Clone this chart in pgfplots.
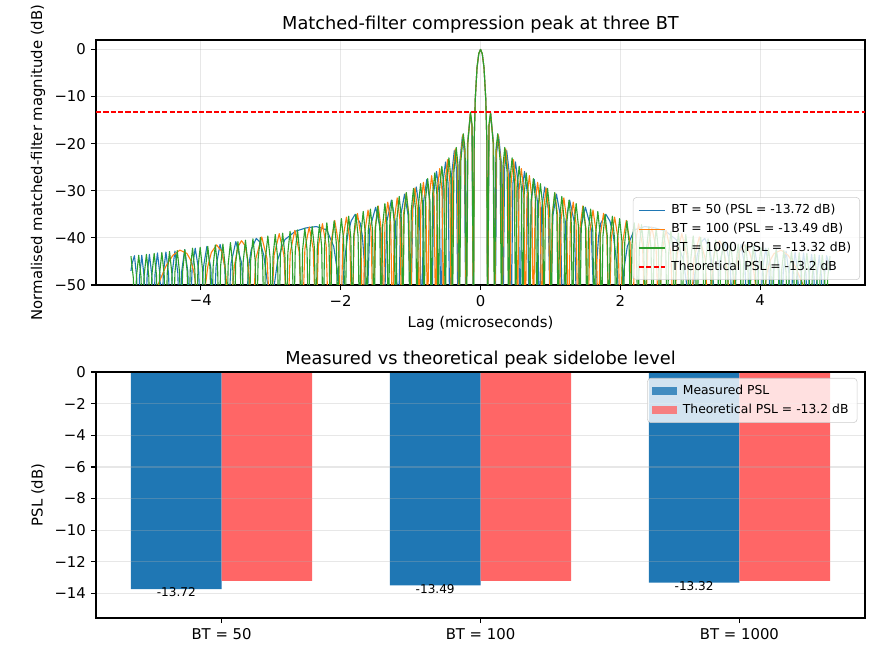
\documentclass[border=0pt]{standalone}
\usepackage{fontspec}
\setmainfont{DejaVu Sans}
\usepackage{pgfplots}
\pgfplotsset{compat=1.18}
\definecolor{c1}{HTML}{1F77B4}
\definecolor{c2}{HTML}{FF7F0E}
\definecolor{c3}{HTML}{2CA02C}
\definecolor{barred}{HTML}{FF6666}
\definecolor{gridc}{HTML}{B0B0B0}
\begin{document}
\begin{tikzpicture}
\path[use as bounding box] (0,0) rectangle (633.6pt,475.2pt);
\pgfplotsset{
  every axis/.append style={
    scale only axis,
    axis line style={line width=0.85pt},
    every tick/.style={line width=0.85pt, black},
    tick align=outside,
    major tick length=3.75pt,
    tick pos=left,
    tick label style={font=\fontsize{10.7}{12.8}\selectfont},
    label style={font=\fontsize{10.7}{12.8}\selectfont},
    title style={font=\fontsize{12.8}{15.4}\selectfont, at={(axis description cs:0.5,1)}, anchor=south, inner sep=0pt},
    grid style={color=gridc, opacity=0.3, line width=0.85pt},
    legend cell align=left,
  }
}
% ---------------- top axis ----------------
\begin{axis}[
  at={(69.12pt,270pt)}, anchor=south west,
  width=553.7pt, height=176.4pt,
  xmin=-5.5, xmax=5.5, ymin=-50, ymax=2,
  xtick={-4,-2,0,2,4}, xticklabels={−4,−2,0,2,4},
  ytick={-50,-40,-30,-20,-10,0}, yticklabels={−50,−40,−30,−20,−10,0},
  grid=major,
  title={Matched-filter compression peak at three BT},
  title style={yshift=-1.3pt},
  xlabel={Lag (microseconds)},
  ylabel={Normalised matched-filter magnitude (dB)},
  xlabel style={at={(axis description cs:0.5,-0.158)}, anchor=center},
  ylabel style={at={(axis description cs:-0.0755,0.5)}, anchor=center},
  legend image code/.code={\draw[#1, sharp corners] (0pt,0pt) -- (18.7pt,0pt);},
  legend style={at={(1,0)}, anchor=south east, xshift=-3.6pt, yshift=3.6pt,
    font=\fontsize{8.9}{10.7}\selectfont, draw=black!20, fill=white,
    fill opacity=0.8, draw opacity=1, text opacity=1, rounded corners=2.5pt,
    inner xsep=3.5pt, inner ysep=2.3pt, column sep=1.5pt, nodes={inner sep=2.7pt}},
]
\addplot[c1, line width=0.8pt, line join=round, no markers] coordinates {
(-5.000,-47.0) (-4.985,-45.5) (-4.950,-43.8) (-4.918,-48.4)
(-4.898,-60) (-4.877,-48.2) (-4.845,-43.7) (-4.812,-48.2)
(-4.791,-60) (-4.769,-48.0) (-4.736,-43.5) (-4.701,-48.0)
(-4.679,-60) (-4.656,-47.8) (-4.621,-43.2) (-4.585,-47.8)
(-4.562,-60) (-4.537,-47.6) (-4.500,-43.0) (-4.462,-47.6)
(-4.437,-60) (-4.410,-47.4) (-4.371,-42.8) (-4.330,-47.4)
(-4.303,-60) (-4.274,-47.1) (-4.232,-42.5) (-4.187,-47.1)
(-4.158,-60) (-4.126,-46.8) (-4.081,-42.2) (-4.032,-46.8)
(-4.000,-60) (-3.965,-46.4) (-3.914,-41.8) (-3.858,-46.4)
(-3.823,-60) (-3.782,-46.0) (-3.725,-41.4) (-3.659,-46.0)
(-3.618,-60) (-3.568,-45.4) (-3.500,-40.8) (-3.416,-45.4)
(-3.366,-60) (-3.340,-51.6) (-3.310,-45.4) (-3.280,-42.5) (-3.207,-40.1) (-3.150,-41.0) (-3.100,-43.7) (-3.050,-49.4)
(-3.000,-60) (-2.950,-50.0) (-2.900,-44.6) (-2.800,-40.4) (-2.650,-38.6) (-2.500,-37.9) (-2.350,-37.6) (-2.200,-38.3) (-2.100,-41.8) (-2.050,-46.8)
(-2.000,-60) (-1.950,-45.5) (-1.900,-39.4) (-1.850,-36.4) (-1.793,-35.0) (-1.720,-36.9) (-1.690,-39.6) (-1.660,-45.5)
(-1.634,-60) (-1.584,-38.1) (-1.500,-33.5) (-1.432,-38.1)
(-1.382,-60) (-1.341,-36.6) (-1.275,-32.0) (-1.218,-36.6)
(-1.177,-60) (-1.142,-35.3) (-1.086,-30.7) (-1.035,-35.3)
(-1.000,-60) (-0.968,-33.8) (-0.919,-29.2) (-0.874,-33.8)
(-0.842,-60) (-0.813,-32.2) (-0.768,-27.6) (-0.726,-32.2)
(-0.697,-60) (-0.670,-30.5) (-0.629,-25.9) (-0.591,-30.5)
(-0.564,-60) (-0.539,-28.5) (-0.500,-23.9) (-0.463,-28.5)
(-0.438,-60) (-0.415,-26.8) (-0.375,-21.5) (-0.344,-25.4)
(-0.321,-60) (-0.298,-24.0) (-0.259,-18.4) (-0.231,-21.9)
(-0.209,-60) (-0.187,-20.1) (-0.146,-13.7) (-0.123,-16.5)
(-0.102,-60) (-0.090,-19.0) (-0.075,-10.5) (-0.050,-3.9) (-0.025,-0.9)
(0,0) (0.025,-0.9) (0.050,-3.9) (0.075,-10.5) (0.090,-19.0) (0.102,-60)
(0.123,-16.5) (0.146,-13.7) (0.187,-20.1) (0.209,-60)
(0.231,-21.9) (0.259,-18.4) (0.298,-24.0) (0.321,-60)
(0.344,-25.4) (0.375,-21.5) (0.415,-26.8) (0.438,-60)
(0.463,-28.5) (0.500,-23.9) (0.539,-28.5) (0.564,-60)
(0.591,-30.5) (0.629,-25.9) (0.670,-30.5) (0.697,-60)
(0.726,-32.2) (0.768,-27.6) (0.813,-32.2) (0.842,-60)
(0.874,-33.8) (0.919,-29.2) (0.968,-33.8) (1.000,-60)
(1.035,-35.3) (1.086,-30.7) (1.142,-35.3) (1.177,-60)
(1.218,-36.6) (1.275,-32.0) (1.341,-36.6) (1.382,-60)
(1.432,-38.1) (1.500,-33.5) (1.584,-38.1) (1.634,-60)
(1.660,-45.5) (1.690,-39.6) (1.720,-36.9) (1.793,-35.0) (1.850,-36.4) (1.900,-39.4) (1.950,-45.5) (2.000,-60)
(2.050,-46.8) (2.100,-41.8) (2.200,-38.3) (2.350,-37.6) (2.500,-37.9) (2.650,-38.6) (2.800,-40.4) (2.900,-44.6) (2.950,-50.0) (3.000,-60)
(3.050,-49.4) (3.100,-43.7) (3.150,-41.0) (3.207,-40.1) (3.280,-42.5) (3.310,-45.4) (3.340,-51.6) (3.366,-60)
(3.416,-45.4) (3.500,-40.8) (3.568,-45.4) (3.618,-60)
(3.659,-46.0) (3.725,-41.4) (3.782,-46.0) (3.823,-60)
(3.858,-46.4) (3.914,-41.8) (3.965,-46.4) (4.000,-60)
(4.032,-46.8) (4.081,-42.2) (4.126,-46.8) (4.158,-60)
(4.187,-47.1) (4.232,-42.5) (4.274,-47.1) (4.303,-60)
(4.330,-47.4) (4.371,-42.8) (4.410,-47.4) (4.437,-60)
(4.462,-47.6) (4.500,-43.0) (4.537,-47.6) (4.562,-60)
(4.585,-47.8) (4.621,-43.2) (4.656,-47.8) (4.679,-60)
(4.701,-48.0) (4.736,-43.5) (4.769,-48.0) (4.791,-60)
(4.812,-48.2) (4.845,-43.7) (4.877,-48.2) (4.898,-60)
(4.918,-48.4) (4.950,-43.8) (4.985,-45.5) (5.000,-47.0)
};
\addlegendentry{BT = 50 (PSL = -13.72 dB)}
\addplot[c2, line width=0.8pt, line join=round, no markers] coordinates {
(-5.000,-80) (-4.800,-61) (-4.700,-54.5) (-4.600,-49.5) (-4.500,-46.0) (-4.400,-43.7) (-4.300,-42.6) (-4.200,-43.3) (-4.150,-44.6) (-4.100,-47.2) (-4.050,-52.5)
(-4.000,-60) (-3.950,-51.9) (-3.900,-46.0) (-3.850,-43.1) (-3.775,-41.5) (-3.700,-42.9) (-3.650,-46.7) (-3.620,-51.6)
(-3.586,-60) (-3.550,-50.9) (-3.520,-45.9) (-3.470,-41.9) (-3.419,-40.6) (-3.370,-41.6) (-3.330,-44.6) (-3.300,-49.7)
(-3.268,-60) (-3.214,-44.4) (-3.129,-39.8) (-3.054,-44.4)
(-3.000,-60) (-2.953,-43.7) (-2.879,-39.1) (-2.811,-43.7)
(-2.764,-60) (-2.721,-43.0) (-2.655,-38.4) (-2.594,-43.0)
(-2.551,-60) (-2.512,-42.3) (-2.450,-37.7) (-2.393,-42.3)
(-2.354,-60) (-2.318,-41.6) (-2.261,-37.0) (-2.208,-41.6)
(-2.172,-60) (-2.138,-40.9) (-2.085,-36.3) (-2.034,-40.9)
(-2.000,-60) (-1.968,-40.2) (-1.918,-35.6) (-1.870,-40.2)
(-1.838,-60) (-1.807,-39.4) (-1.760,-34.8) (-1.714,-39.4)
(-1.683,-60) (-1.654,-38.7) (-1.609,-34.1) (-1.565,-38.7)
(-1.536,-60) (-1.508,-37.9) (-1.464,-33.2) (-1.422,-37.9)
(-1.394,-60) (-1.367,-37.0) (-1.326,-32.4) (-1.285,-37.0)
(-1.258,-60) (-1.232,-36.1) (-1.192,-31.5) (-1.153,-36.1)
(-1.127,-60) (-1.102,-35.1) (-1.063,-30.5) (-1.025,-35.1)
(-1.000,-60) (-0.975,-34.0) (-0.938,-29.4) (-0.902,-34.0)
(-0.877,-60) (-0.853,-32.8) (-0.817,-28.2) (-0.781,-32.8)
(-0.757,-60) (-0.734,-31.4) (-0.699,-26.8) (-0.664,-31.4)
(-0.641,-60) (-0.618,-29.9) (-0.584,-25.3) (-0.551,-29.9)
(-0.528,-60) (-0.506,-28.0) (-0.472,-23.4) (-0.439,-28.0)
(-0.417,-60) (-0.396,-26.4) (-0.360,-21.1) (-0.331,-25.0)
(-0.310,-60) (-0.289,-23.8) (-0.252,-18.1) (-0.225,-21.7)
(-0.204,-60) (-0.183,-19.9) (-0.145,-13.5) (-0.122,-16.2)
(-0.101,-60) (-0.090,-19.1) (-0.075,-10.5) (-0.050,-3.9) (-0.025,-0.9)
(0,0) (0.025,-0.9) (0.050,-3.9) (0.075,-10.5) (0.090,-19.1) (0.101,-60)
(0.122,-16.2) (0.145,-13.5) (0.183,-19.9) (0.204,-60)
(0.225,-21.7) (0.252,-18.1) (0.289,-23.8) (0.310,-60)
(0.331,-25.0) (0.360,-21.1) (0.396,-26.4) (0.417,-60)
(0.439,-28.0) (0.472,-23.4) (0.506,-28.0) (0.528,-60)
(0.551,-29.9) (0.584,-25.3) (0.618,-29.9) (0.641,-60)
(0.664,-31.4) (0.699,-26.8) (0.734,-31.4) (0.757,-60)
(0.781,-32.8) (0.817,-28.2) (0.853,-32.8) (0.877,-60)
(0.902,-34.0) (0.938,-29.4) (0.975,-34.0) (1.000,-60)
(1.025,-35.1) (1.063,-30.5) (1.102,-35.1) (1.127,-60)
(1.153,-36.1) (1.192,-31.5) (1.232,-36.1) (1.258,-60)
(1.285,-37.0) (1.326,-32.4) (1.367,-37.0) (1.394,-60)
(1.422,-37.9) (1.464,-33.2) (1.508,-37.9) (1.536,-60)
(1.565,-38.7) (1.609,-34.1) (1.654,-38.7) (1.683,-60)
(1.714,-39.4) (1.760,-34.8) (1.807,-39.4) (1.838,-60)
(1.870,-40.2) (1.918,-35.6) (1.968,-40.2) (2.000,-60)
(2.034,-40.9) (2.085,-36.3) (2.138,-40.9) (2.172,-60)
(2.208,-41.6) (2.261,-37.0) (2.318,-41.6) (2.354,-60)
(2.393,-42.3) (2.450,-37.7) (2.512,-42.3) (2.551,-60)
(2.594,-43.0) (2.655,-38.4) (2.721,-43.0) (2.764,-60)
(2.811,-43.7) (2.879,-39.1) (2.953,-43.7) (3.000,-60)
(3.054,-44.4) (3.129,-39.8) (3.214,-44.4) (3.268,-60)
(3.300,-49.7) (3.330,-44.6) (3.370,-41.6) (3.419,-40.6) (3.470,-41.9) (3.520,-45.9) (3.550,-50.9) (3.586,-60)
(3.620,-51.6) (3.650,-46.7) (3.700,-42.9) (3.775,-41.5) (3.850,-43.1) (3.900,-46.0) (3.950,-51.9) (4.000,-60)
(4.050,-52.5) (4.100,-47.2) (4.150,-44.6) (4.200,-43.3) (4.300,-42.6) (4.400,-43.7) (4.500,-46.0) (4.600,-49.5) (4.700,-54.5) (4.800,-61) (5.000,-80)
};
\addlegendentry{BT = 100 (PSL = -13.49 dB)}
\addplot[c3, line width=0.8pt, line join=round, no markers] coordinates {
(-5.000,-43.9) (-4.966,-48.5)
(-4.944,-60) (-4.922,-48.3) (-4.889,-43.7) (-4.856,-48.3)
(-4.834,-60) (-4.812,-48.1) (-4.779,-43.5) (-4.745,-48.1)
(-4.723,-60) (-4.701,-47.9) (-4.668,-43.3) (-4.635,-47.9)
(-4.613,-60) (-4.591,-47.7) (-4.558,-43.1) (-4.525,-47.7)
(-4.503,-60) (-4.481,-47.5) (-4.448,-42.9) (-4.415,-47.5)
(-4.393,-60) (-4.371,-47.3) (-4.338,-42.7) (-4.305,-47.3)
(-4.283,-60) (-4.261,-47.1) (-4.229,-42.5) (-4.196,-47.1)
(-4.174,-60) (-4.152,-46.8) (-4.119,-42.2) (-4.086,-46.8)
(-4.064,-60) (-4.042,-46.6) (-4.010,-42.0) (-3.977,-46.6)
(-3.955,-60) (-3.933,-46.4) (-3.901,-41.8) (-3.869,-46.4)
(-3.847,-60) (-3.825,-46.1) (-3.793,-41.5) (-3.761,-46.1)
(-3.739,-60) (-3.717,-45.9) (-3.685,-41.3) (-3.653,-45.9)
(-3.631,-60) (-3.609,-45.6) (-3.577,-41.0) (-3.545,-45.6)
(-3.523,-60) (-3.502,-45.4) (-3.470,-40.8) (-3.437,-45.4)
(-3.416,-60) (-3.395,-45.1) (-3.362,-40.5) (-3.330,-45.1)
(-3.309,-60) (-3.288,-44.8) (-3.255,-40.2) (-3.223,-44.8)
(-3.202,-60) (-3.181,-44.5) (-3.149,-39.9) (-3.117,-44.5)
(-3.096,-60) (-3.075,-44.2) (-3.042,-39.6) (-3.010,-44.2)
(-2.989,-60) (-2.968,-43.9) (-2.936,-39.3) (-2.904,-43.9)
(-2.883,-60) (-2.862,-43.6) (-2.830,-39.0) (-2.798,-43.6)
(-2.777,-60) (-2.756,-43.2) (-2.724,-38.6) (-2.692,-43.2)
(-2.671,-60) (-2.650,-42.9) (-2.618,-38.3) (-2.587,-42.9)
(-2.566,-60) (-2.545,-42.6) (-2.513,-38.0) (-2.481,-42.6)
(-2.460,-60) (-2.439,-42.2) (-2.408,-37.6) (-2.376,-42.2)
(-2.355,-60) (-2.334,-41.8) (-2.303,-37.2) (-2.272,-41.8)
(-2.251,-60) (-2.230,-41.4) (-2.198,-36.8) (-2.167,-41.4)
(-2.146,-60) (-2.125,-41.0) (-2.094,-36.4) (-2.063,-41.0)
(-2.042,-60) (-2.021,-40.5) (-1.990,-35.9) (-1.958,-40.5)
(-1.937,-60) (-1.916,-40.0) (-1.886,-35.4) (-1.855,-40.0)
(-1.834,-60) (-1.813,-39.6) (-1.782,-35.0) (-1.751,-39.6)
(-1.730,-60) (-1.709,-39.0) (-1.678,-34.4) (-1.648,-39.0)
(-1.627,-60) (-1.606,-38.5) (-1.575,-33.9) (-1.544,-38.5)
(-1.523,-60) (-1.502,-37.9) (-1.471,-33.3) (-1.441,-37.9)
(-1.420,-60) (-1.399,-37.3) (-1.368,-32.7) (-1.338,-37.3)
(-1.317,-60) (-1.297,-36.6) (-1.266,-32.0) (-1.235,-36.6)
(-1.215,-60) (-1.194,-35.8) (-1.163,-31.2) (-1.133,-35.8)
(-1.112,-60) (-1.092,-35.0) (-1.061,-30.4) (-1.030,-35.0)
(-1.010,-60) (-0.990,-34.1) (-0.959,-29.5) (-0.928,-34.1)
(-0.908,-60) (-0.888,-33.1) (-0.857,-28.5) (-0.827,-33.1)
(-0.807,-60) (-0.787,-32.0) (-0.756,-27.4) (-0.725,-32.0)
(-0.705,-60) (-0.685,-30.8) (-0.654,-26.2) (-0.624,-30.8)
(-0.604,-60) (-0.584,-29.4) (-0.553,-24.8) (-0.523,-29.4)
(-0.503,-60) (-0.483,-27.6) (-0.452,-23.0) (-0.422,-27.6)
(-0.402,-60) (-0.381,-26.1) (-0.347,-20.8) (-0.321,-24.7)
(-0.301,-60) (-0.280,-23.5) (-0.246,-17.9) (-0.220,-21.4)
(-0.200,-60) (-0.180,-19.7) (-0.143,-13.3) (-0.120,-16.1)
(-0.100,-60) (-0.090,-19.2) (-0.075,-10.5) (-0.050,-3.9) (-0.025,-0.9)
(0,0) (0.025,-0.9) (0.050,-3.9) (0.075,-10.5) (0.090,-19.2) (0.100,-60)
(0.120,-16.1) (0.143,-13.3) (0.180,-19.7) (0.200,-60)
(0.220,-21.4) (0.246,-17.9) (0.280,-23.5) (0.301,-60)
(0.321,-24.7) (0.347,-20.8) (0.381,-26.1) (0.402,-60)
(0.422,-27.6) (0.452,-23.0) (0.483,-27.6) (0.503,-60)
(0.523,-29.4) (0.553,-24.8) (0.584,-29.4) (0.604,-60)
(0.624,-30.8) (0.654,-26.2) (0.685,-30.8) (0.705,-60)
(0.725,-32.0) (0.756,-27.4) (0.787,-32.0) (0.807,-60)
(0.827,-33.1) (0.857,-28.5) (0.888,-33.1) (0.908,-60)
(0.928,-34.1) (0.959,-29.5) (0.990,-34.1) (1.010,-60)
(1.030,-35.0) (1.061,-30.4) (1.092,-35.0) (1.112,-60)
(1.133,-35.8) (1.163,-31.2) (1.194,-35.8) (1.215,-60)
(1.235,-36.6) (1.266,-32.0) (1.297,-36.6) (1.317,-60)
(1.338,-37.3) (1.368,-32.7) (1.399,-37.3) (1.420,-60)
(1.441,-37.9) (1.471,-33.3) (1.502,-37.9) (1.523,-60)
(1.544,-38.5) (1.575,-33.9) (1.606,-38.5) (1.627,-60)
(1.648,-39.0) (1.678,-34.4) (1.709,-39.0) (1.730,-60)
(1.751,-39.6) (1.782,-35.0) (1.813,-39.6) (1.834,-60)
(1.855,-40.0) (1.886,-35.4) (1.916,-40.0) (1.937,-60)
(1.958,-40.5) (1.990,-35.9) (2.021,-40.5) (2.042,-60)
(2.063,-41.0) (2.094,-36.4) (2.125,-41.0) (2.146,-60)
(2.167,-41.4) (2.198,-36.8) (2.230,-41.4) (2.251,-60)
(2.272,-41.8) (2.303,-37.2) (2.334,-41.8) (2.355,-60)
(2.376,-42.2) (2.408,-37.6) (2.439,-42.2) (2.460,-60)
(2.481,-42.6) (2.513,-38.0) (2.545,-42.6) (2.566,-60)
(2.587,-42.9) (2.618,-38.3) (2.650,-42.9) (2.671,-60)
(2.692,-43.2) (2.724,-38.6) (2.756,-43.2) (2.777,-60)
(2.798,-43.6) (2.830,-39.0) (2.862,-43.6) (2.883,-60)
(2.904,-43.9) (2.936,-39.3) (2.968,-43.9) (2.989,-60)
(3.010,-44.2) (3.042,-39.6) (3.075,-44.2) (3.096,-60)
(3.117,-44.5) (3.149,-39.9) (3.181,-44.5) (3.202,-60)
(3.223,-44.8) (3.255,-40.2) (3.288,-44.8) (3.309,-60)
(3.330,-45.1) (3.362,-40.5) (3.395,-45.1) (3.416,-60)
(3.437,-45.4) (3.470,-40.8) (3.502,-45.4) (3.523,-60)
(3.545,-45.6) (3.577,-41.0) (3.609,-45.6) (3.631,-60)
(3.653,-45.9) (3.685,-41.3) (3.717,-45.9) (3.739,-60)
(3.761,-46.1) (3.793,-41.5) (3.825,-46.1) (3.847,-60)
(3.869,-46.4) (3.901,-41.8) (3.933,-46.4) (3.955,-60)
(3.977,-46.6) (4.010,-42.0) (4.042,-46.6) (4.064,-60)
(4.086,-46.8) (4.119,-42.2) (4.152,-46.8) (4.174,-60)
(4.196,-47.1) (4.229,-42.5) (4.261,-47.1) (4.283,-60)
(4.305,-47.3) (4.338,-42.7) (4.371,-47.3) (4.393,-60)
(4.415,-47.5) (4.448,-42.9) (4.481,-47.5) (4.503,-60)
(4.525,-47.7) (4.558,-43.1) (4.591,-47.7) (4.613,-60)
(4.635,-47.9) (4.668,-43.3) (4.701,-47.9) (4.723,-60)
(4.745,-48.1) (4.779,-43.5) (4.812,-48.1) (4.834,-60)
(4.856,-48.3) (4.889,-43.7) (4.922,-48.3) (4.944,-60)
(4.966,-48.5) (5.000,-43.9)
};
\addlegendentry{BT = 1000 (PSL = -13.32 dB)}
\addplot[color=red, line width=1.5pt, dash pattern=on 3.7pt off 1.6pt, no markers,
  legend image code/.code={\draw[red, line width=1.1pt, dash pattern=on 3.7pt off 1.6pt] (0pt,0pt) -- (18.7pt,0pt);}]
  coordinates {(-5.5,-13.2) (5.5,-13.2)};
\addlegendentry{Theoretical PSL = -13.2 dB}
\end{axis}
% ---------------- bottom axis ----------------
\begin{axis}[
  at={(69.12pt,30.24pt)}, anchor=south west,
  width=553.7pt, height=177.1pt,
  xmin=-0.485, xmax=2.485, ymin=-15.55, ymax=0,
  xtick={0,1,2}, xticklabels={BT = 50, BT = 100, BT = 1000},
  ytick={-14,-12,-10,-8,-6,-4,-2,0}, yticklabels={−14,−12,−10,−8,−6,−4,−2,0},
  ymajorgrids, axis on top,
  title={Measured vs theoretical peak sidelobe level},
  title style={yshift=-3.5pt},
  ylabel={PSL (dB)},
  ylabel style={at={(axis description cs:-0.0755,0.5)}, anchor=center},
  legend style={at={(1,1)}, anchor=north east, xshift=-5.5pt, yshift=-4.3pt,
    font=\fontsize{8.9}{10.7}\selectfont, draw=black!20, fill=white,
    fill opacity=0.8, draw opacity=1, text opacity=1, rounded corners=2.5pt,
    inner xsep=3.5pt, inner ysep=2.3pt, column sep=1.5pt, nodes={inner sep=2.7pt}},
]
\addplot[ybar, bar width=0.35, bar shift=-0.175, fill=c1, draw=none,
  legend image code/.code={\fill[c1, sharp corners] (0pt,-3.1pt) rectangle (17.8pt,3.1pt);}]
  coordinates {(0,-13.72) (1,-13.49) (2,-13.32)};
\addlegendentry{Measured PSL}
\addplot[ybar, bar width=0.35, bar shift=0.175, fill=barred, draw=none,
  legend image code/.code={\fill[barred, sharp corners] (0pt,-3.1pt) rectangle (17.8pt,3.1pt);}]
  coordinates {(0,-13.2) (1,-13.2) (2,-13.2)};
\addlegendentry{Theoretical PSL = -13.2 dB}
\addplot[draw=none, no markers, forget plot, nodes near coords, point meta=explicit symbolic,
  every node near coord/.append style={anchor=north, inner sep=0pt, yshift=1.1pt, text=black, font=\fontsize{8.7}{10}\selectfont}]
  coordinates {(-0.175,-13.72) [-13.72] (0.825,-13.49) [-13.49] (1.825,-13.32) [-13.32]};
\end{axis}
\end{tikzpicture}
\end{document}
